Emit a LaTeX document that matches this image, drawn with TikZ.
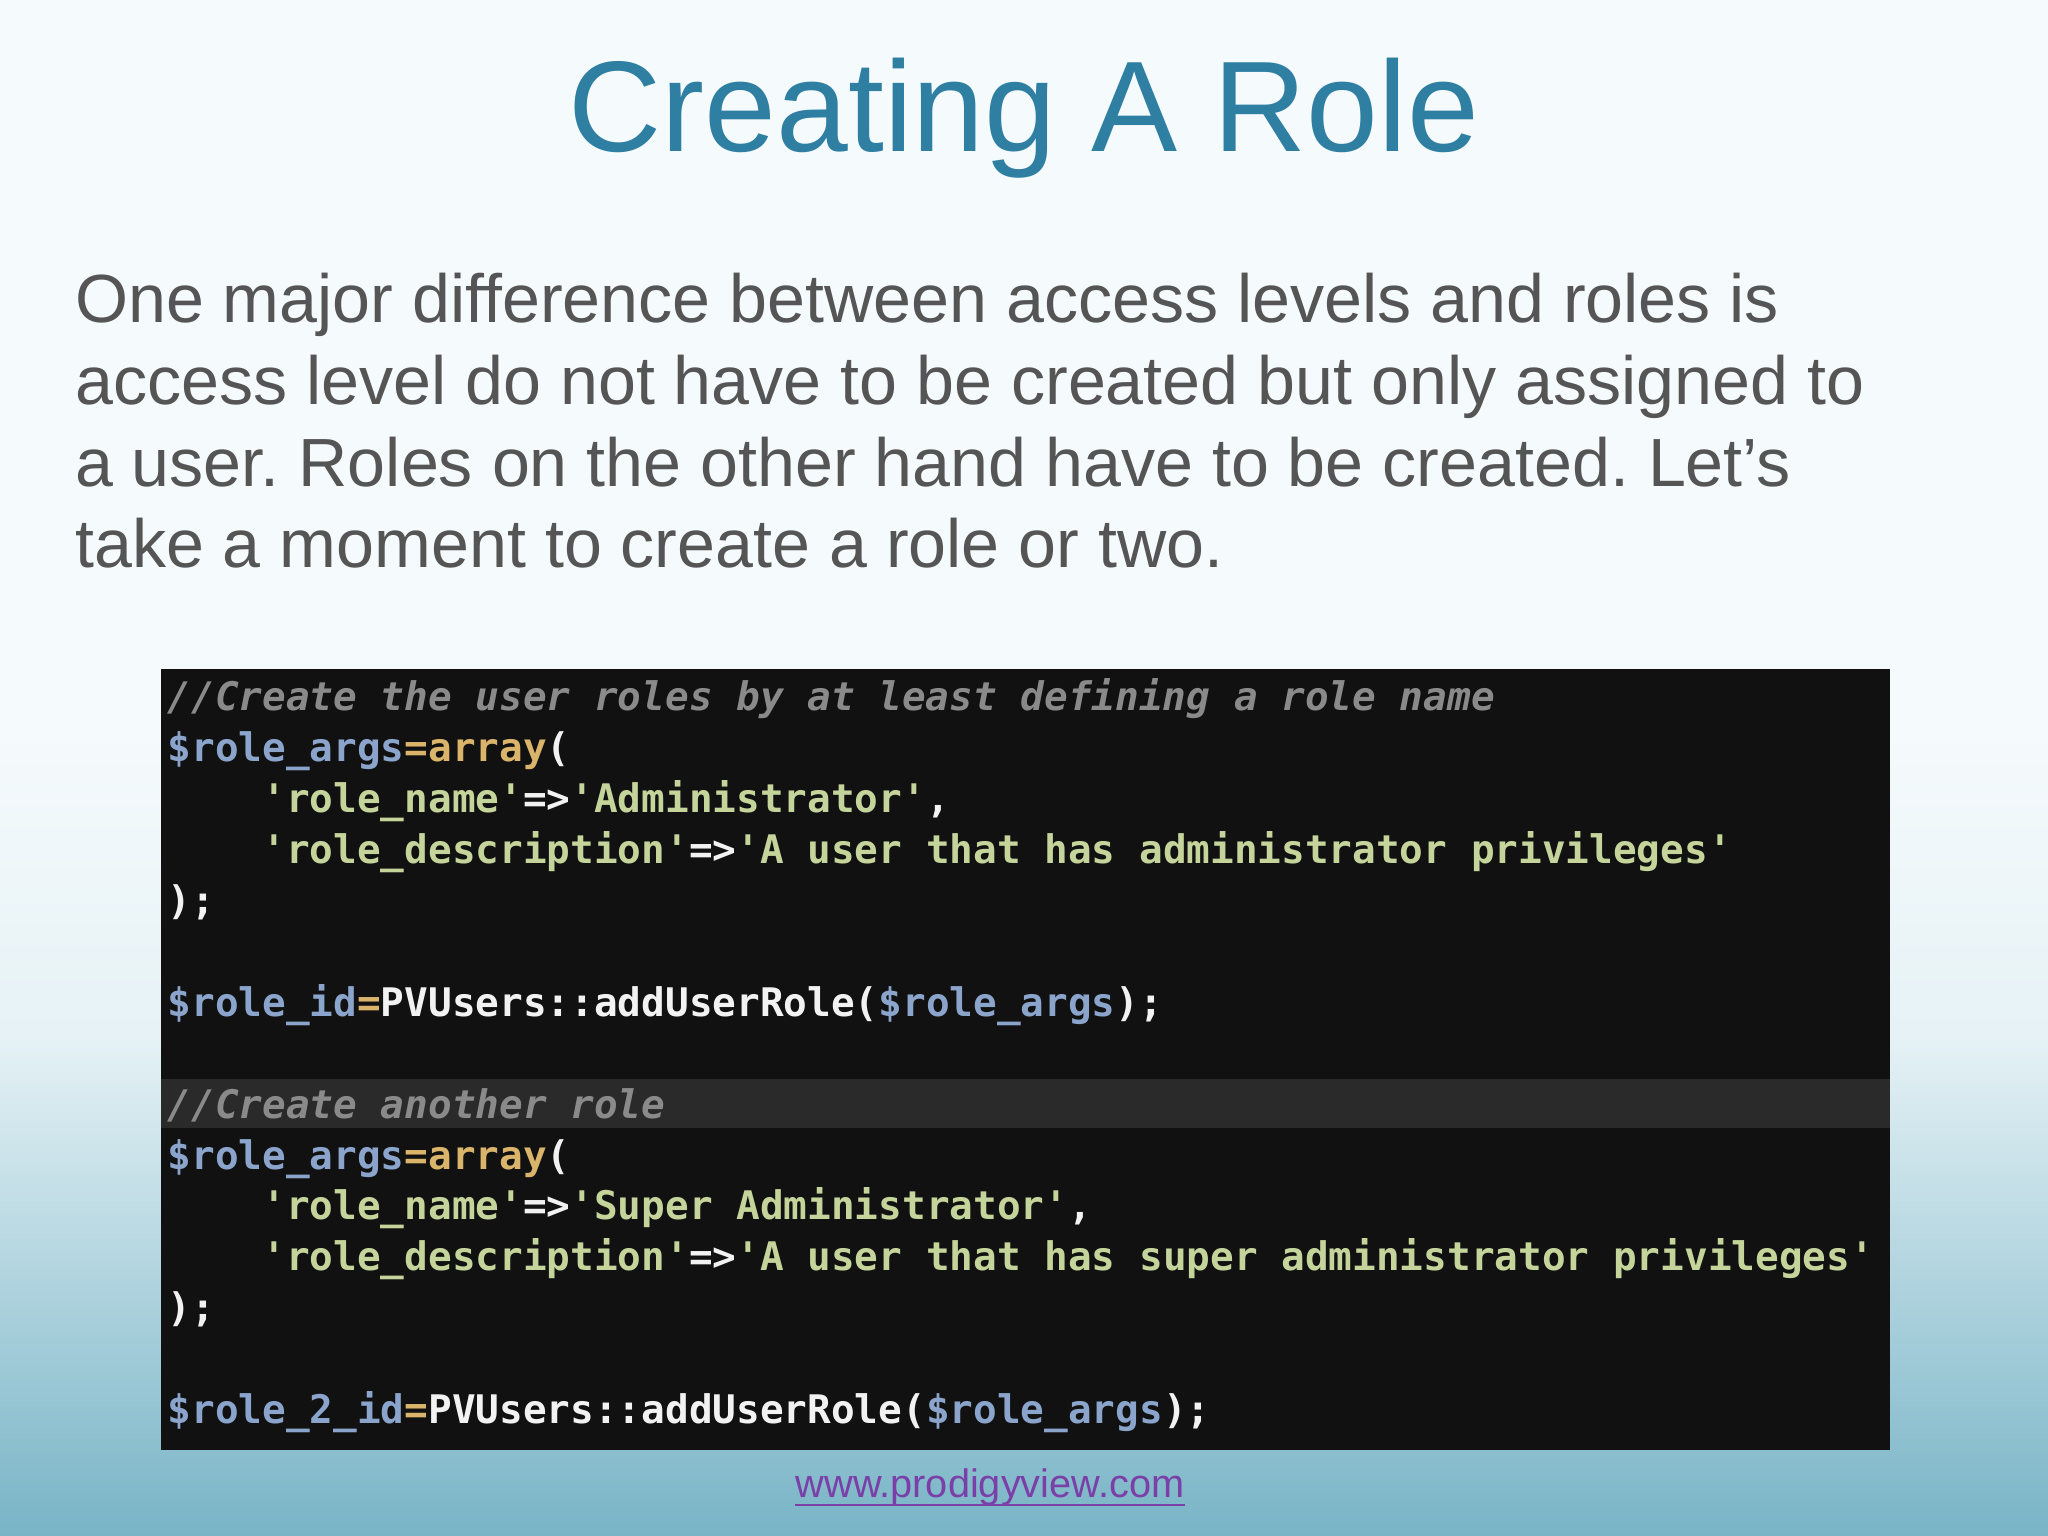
\documentclass[tikz,border=0pt]{standalone}
\usepackage{fontspec}
\setmainfont{Liberation Sans}
\newfontfamily\codefont{DejaVu Sans Mono}
\definecolor{titlec}{HTML}{2E7FA2}
\definecolor{bodyc}{HTML}{555555}
\definecolor{cvar}{HTML}{8AA4CC}
\definecolor{cstr}{HTML}{C4D49A}
\definecolor{ckey}{HTML}{D9B46A}
\definecolor{ccom}{HTML}{8A8A8A}
\definecolor{cpl}{HTML}{F2F2F2}
\definecolor{codebg}{HTML}{111111}
\definecolor{hlbg}{HTML}{2A2A2A}
\definecolor{linkc}{HTML}{7B3FA8}
\definecolor{bgtop}{HTML}{F5FAFC}
\definecolor{bgmid}{HTML}{E6F2F6}
\definecolor{bgbot}{HTML}{78B4C6}
\newcommand{\cv}[1]{\textcolor{cvar}{#1}}
\newcommand{\cs}[1]{\textcolor{cstr}{#1}}
\newcommand{\ck}[1]{\textcolor{ckey}{#1}}
\newcommand{\cc}[1]{\textcolor{ccom}{\itshape #1}}
\tikzset{
 body/.style={anchor=base west,inner sep=0,text=bodyc,font=\frenchspacing\fontsize{19.4}{24}\selectfont},
 code/.style={anchor=base west,inner sep=0,text=cpl,font=\codefont\bfseries\fontsize{11.2}{13}\selectfont}
}
\begin{document}
\begin{tikzpicture}
\useasboundingbox (0,0) rectangle (20.48,15.36);
\fill[bgtop] (0,15.36) rectangle (20.48,8);
\shade[top color=bgtop, bottom color=bgmid] (0,8.01) rectangle (20.48,5);
\shade[top color=bgmid, bottom color=bgbot] (0,5.01) rectangle (20.48,0);
\node[anchor=base,inner sep=0,text=titlec,font=\fontsize{36.7}{44}\selectfont] (title) at (10.24,13.84) {Creating A Role};
\node[body] (b1) at (0.745,12.13) {One major difference between access levels and roles is};
\node[body] (b2) at (0.745,11.314) {access level do not have to be created but only assigned to};
\node[body] (b3) at (0.745,10.498) {a user. Roles on the other hand have to be created. Let’s};
\node[body] (b4) at (0.745,9.682) {take a moment to create a role or two.};
\fill[codebg] (1.606,8.673) rectangle (18.90,0.86);
\fill[hlbg] (1.606,4.57) rectangle (18.90,4.08);
\def\y#1{8.25-#1*0.509}
\node[code] (c0) at (1.67,{\y{0}}) {\cc{//Create the user roles by at least defining a role name}};
\node[code] (c1) at (1.67,{\y{1}}) {\cv{\$role\_args}\ck{=array}(};
\node[code] (c2) at (1.67,{\y{2}}) {\ \ \ \ \cs{'role\_name'}=>\cs{'Administrator'},};
\node[code] (c3) at (1.67,{\y{3}}) {\ \ \ \ \cs{'role\_description'}=>\cs{'A user that has administrator privileges'}};
\node[code] (c4) at (1.67,{\y{4}}) {);};
\node[code] (c6) at (1.67,{\y{6}}) {\cv{\$role\_id}\ck{=}PVUsers::addUserRole(\cv{\$role\_args});};
\node[code] (c8) at (1.67,{\y{8}}) {\cc{//Create another role}};
\node[code] (c9) at (1.67,{\y{9}}) {\cv{\$role\_args}\ck{=array}(};
\node[code] (c10) at (1.67,{\y{10}}) {\ \ \ \ \cs{'role\_name'}=>\cs{'Super Administrator'},};
\node[code] (c11) at (1.67,{\y{11}}) {\ \ \ \ \cs{'role\_description'}=>\cs{'A user that has super administrator privileges'}};
\node[code] (c12) at (1.67,{\y{12}}) {);};
\node[code] (c14) at (1.67,{\y{14}}) {\cv{\$role\_2\_id}\ck{=}PVUsers::addUserRole(\cv{\$role\_args});};
\node[anchor=base,inner sep=0,text=linkc,font=\fontsize{11.3}{14}\selectfont] (link) at (9.90,0.38) {www.prodigyview.com};
\draw[linkc,line width=0.6pt] ([yshift=-2pt]link.base west) -- ([yshift=-2pt]link.base east);
\end{tikzpicture}
\end{document}
